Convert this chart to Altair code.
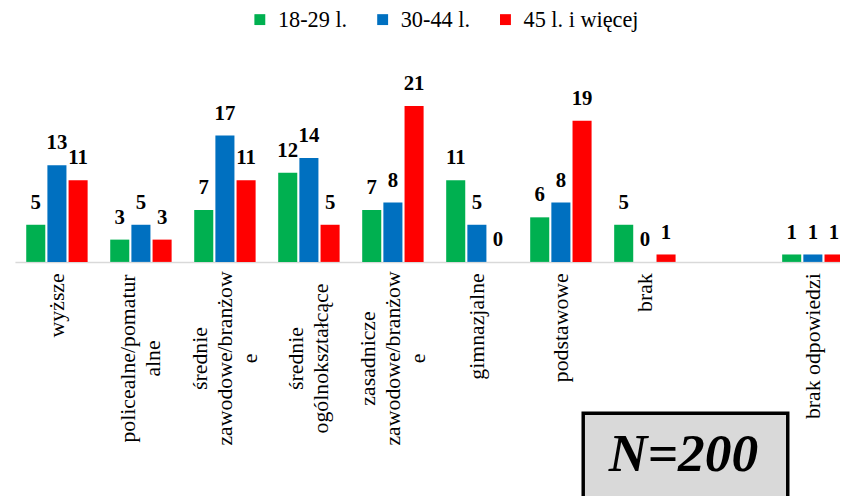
import altair as alt
import pandas as pd

categories = [
    "wyższe",
    "policealne/pomatur|alne",
    "średnie|zawodowe/branżow|e",
    "średnie|ogólnokształcące",
    "zasadnicze|zawodowe/branżow|e",
    "gimnazjalne",
    "podstawowe",
    "brak",
    " ",
    "brak odpowiedzi",
]
groups = ["18-29 l.", "30-44 l.", "45 l. i więcej"]
colors = ["#00B050", "#0070C0", "#FF0000"]

data_cats = [c for c in categories if c.strip()]
v_18_29 = [5, 3, 7, 12, 7, 11, 6, 5, 1]
v_30_44 = [13, 5, 17, 14, 8, 5, 8, 0, 1]
v_45_plus = [11, 3, 11, 5, 21, 0, 19, 1, 1]

rows = []
for g, vals in zip(groups, [v_18_29, v_30_44, v_45_plus]):
    for c, v in zip(data_cats, vals):
        rows.append({"kat": c, "grupa": g, "wartosc": v})
df = pd.DataFrame(rows)

FONT = "Liberation Serif"
PLOT_W = 833
PLOT_H = 180
LINE_H = 25
N_LINES = "length(split(datum.value, '|'))"

x_enc = alt.X(
    "kat:N",
    sort=categories,
    scale=alt.Scale(domain=categories, range=[0, 848], paddingInner=0.269, paddingOuter=0.1345),
    axis=alt.Axis(
        title=None,
        labelAngle=270,
        labelAlign={
            "condition": {"test": N_LINES + " > 1", "value": "center"},
            "value": "right",
        },
        labelBaseline="middle",
        labelExpr="split(datum.label, '|')",
        labelFont=FONT,
        labelFontSize=22,
        labelColor="#000000",
        labelLineHeight=LINE_H,
        labelPadding={
            "condition": {"test": N_LINES + " > 1", "value": 97},
            "value": 11,
        },
        labelOffset={
            "condition": [
                {"test": N_LINES + " == 3", "value": -LINE_H},
                {"test": N_LINES + " == 2", "value": -LINE_H / 2},
            ],
            "value": 0,
        },
        labelLimit=0,
        labelOverlap=False,
        ticks=False,
        domainColor="#d9d9d9",
        domainWidth=1.5,
        grid=False,
    ),
)
y_enc = alt.Y("wartosc:Q", scale=alt.Scale(domain=[0, 24]), axis=None)
xo_enc = alt.XOffset("grupa:N", sort=groups, scale=alt.Scale(domain=groups, paddingInner=0.1, paddingOuter=0))

base = alt.Chart(df)

bars = base.mark_bar().encode(
    x=x_enc,
    y=y_enc,
    xOffset=xo_enc,
    color=alt.Color(
        "grupa:N",
        sort=groups,
        scale=alt.Scale(domain=groups, range=colors),
        legend=alt.Legend(
            title=None,
            orient="none",
            direction="horizontal",
            legendX=236,
            legendY=-76,
            padding=0,
            symbolType="square",
            symbolSize=121,
            symbolStrokeWidth=0,
            labelFont=FONT,
            labelFontSize=22.5,
            labelColor="#000000",
            labelOffset=7,
            columnPadding=24,
        ),
    ),
)

labels = base.mark_text(
    font=FONT, fontSize=21, fontWeight="bold", color="#000000", baseline="middle", dy=-22
).encode(
    x=x_enc,
    y=y_enc,
    xOffset=xo_enc,
    text=alt.Text("wartosc:Q"),
)

box = alt.Chart(pd.DataFrame({"n": ["N=200"]})).mark_rect(
    fill="#d9d9d9", stroke="#000000", strokeWidth=3.5
).encode(
    x=alt.value(573.75), x2=alt.value(780.25), y=alt.value(332.75), y2=alt.value(460)
)

box_text = alt.Chart(pd.DataFrame({"n": ["N=200"]})).mark_text(
    font=FONT, fontSize=54, fontWeight="bold", fontStyle="italic", color="#000000",
    align="center", baseline="alphabetic"
).encode(
    x=alt.value(675), y=alt.value(391), text="n:N"
)

chart = alt.layer(bars, labels, box, box_text).properties(
    width=PLOT_W,
    height=PLOT_H,
    autosize=alt.AutoSizeParams(type="none"),
    padding={"left": 7, "top": 74, "right": 0, "bottom": 234},
).configure_view(stroke=None)

chart.save("out.html", embed_options={"renderer": "svg", "actions": False})
